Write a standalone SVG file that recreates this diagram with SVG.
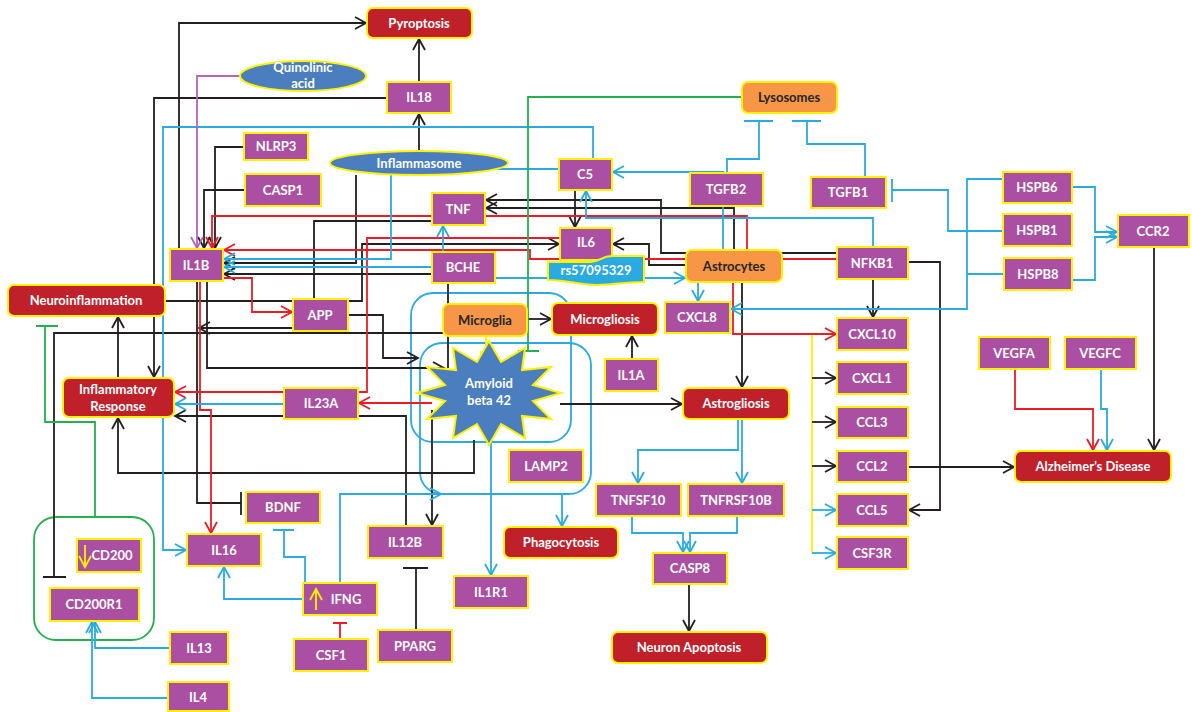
<svg xmlns="http://www.w3.org/2000/svg" width="1192" height="712" viewBox="0 0 1192 712">
  <style>
    .p { fill:#AA4FA2; stroke:#FFF200; stroke-width:2; }
    .r { fill:#C0202A; stroke:#FFF200; stroke-width:2; }
    .o { fill:#F79646; stroke:#FFF200; stroke-width:2; }
    .e { fill:#4A7EBF; stroke:#FFF200; stroke-width:2; }
    .cy { fill:#29ABE2; stroke:#FFF200; stroke-width:2; }
    text { font-family: Lato, "Open Sans", "Liberation Sans", sans-serif; font-weight:bold; font-size:13px; fill:#fff; text-anchor:middle; }
    text.d { fill:#262626; }
    .k, .rd, .bl, .gr, .pu, .ye { fill:none; stroke-width:1.8; }
    .k { stroke:#231F20; }
    .rd { stroke:#ED1C24; }
    .bl { stroke:#29ABE2; }
    .gr { stroke:#22B14C; }
    .pu { stroke:#B565C0; }
    .ye { stroke:#FFF200; }
    .ka { marker-end:url(#ak); }
    .ra { marker-end:url(#ar); }
    .ba { marker-end:url(#ab); }
    .pa { marker-end:url(#ap); }
    .ya { marker-end:url(#ay); }
    .box { fill:none; stroke:#29ABE2; stroke-width:1.8; }
  </style>
  <defs>
    <marker id="ak" markerUnits="userSpaceOnUse" markerWidth="14" markerHeight="16" refX="12" refY="7" orient="auto">
      <path d="M1,1 L12,7 L1,13" fill="none" stroke="#231F20" stroke-width="1.8"/>
    </marker>
    <marker id="ar" markerUnits="userSpaceOnUse" markerWidth="14" markerHeight="16" refX="12" refY="7" orient="auto">
      <path d="M1,1 L12,7 L1,13" fill="none" stroke="#ED1C24" stroke-width="1.8"/>
    </marker>
    <marker id="ab" markerUnits="userSpaceOnUse" markerWidth="14" markerHeight="16" refX="12" refY="7" orient="auto">
      <path d="M1,1 L12,7 L1,13" fill="none" stroke="#29ABE2" stroke-width="1.8"/>
    </marker>
    <marker id="ap" markerUnits="userSpaceOnUse" markerWidth="14" markerHeight="16" refX="12" refY="7" orient="auto">
      <path d="M1,1 L12,7 L1,13" fill="none" stroke="#B565C0" stroke-width="1.8"/>
    </marker>
    <marker id="ay" markerUnits="userSpaceOnUse" markerWidth="14" markerHeight="16" refX="12" refY="7" orient="auto">
      <path d="M1,1 L12,7 L1,13" fill="none" stroke="#FFF200" stroke-width="1.8"/>
    </marker>
  </defs>

  <rect width="1192" height="712" fill="#fff"/>

  <!-- compartments -->
  <g id="compartments">
    <rect class="box" x="411" y="293" width="160" height="149" rx="22"/>
    <rect class="box" x="420" y="343" width="171" height="151" rx="22"/>
    <rect x="34" y="517" width="120" height="123" rx="22" fill="none" stroke="#22B14C" stroke-width="1.8"/>
  </g>

  <g id="connectors">
    <!-- black -->
    <path class="k ka" d="M179,249 V23 H366"/>
    <path class="k ka" d="M419,82 V39"/>
    <path class="k ka" d="M419,151 V114"/>
    <path class="k ka" d="M387,98 H154 V377"/>
    <path class="k ka" d="M244,147 H215 V248"/>
    <path class="k ka" d="M245,190 H204 V248"/>
    <path class="k ka" d="M356,175 V263 H224"/>
    <path class="k ka" d="M448,368 V274 H224"/>
    <path class="k ka" d="M207,281 V368 H444"/>
    <path class="k ka" d="M432,221 H314 V328 H199"/>
    <path class="k" d="M197,281 V503 H241 M241,492 V515"/>
    <path class="k ka" d="M165,301 H362 V244 H559"/>
    <path class="k ka" d="M348,315 H383 V358 H418"/>
    <path class="k" d="M443,333 H54 V577 M43,577 H66"/>
    <path class="k ka" d="M118,378 V317"/>
    <path class="k ka" d="M474,440 V473 H118 V418"/>
    <path class="k ka" d="M406,526 V416 H175"/>
    <path class="k ka" d="M432,410 V525"/>
    <path class="k" d="M416,630 V568 M403,568 H428"/>
    <path class="k ka" d="M527,319 H551"/>
    <path class="k ka" d="M632,359 V336"/>
    <path class="k ka" d="M560,404 H682"/>
    <path class="k ka" d="M575,190 V227"/>
    <path class="k ka" d="M686,265 H649 V244 H613"/>
    <path class="k ka" d="M837,253 H661 V200 H486"/>
    <path class="k ka" d="M734,250 V208 H486"/>
    <path class="k ka" d="M742,282 V387"/>
    <path class="k ka" d="M873,279 V317"/>
    <path class="k ka" d="M908,262 H940 V510 H909"/>
    <path class="k ka" d="M908,467 H1014"/>
    <path class="k ka" d="M1154,247 V450"/>
    <path class="k ka" d="M689,584 V631"/>

    <!-- red -->
    <path class="rd ra" d="M747,250 V216 H212 V248"/>
    <path class="rd ra" d="M837,259 H530 V250 H224"/>
    <path class="rd ra" d="M560,238 H367 V392 H175"/>
    <path class="rd ra" d="M200,281 V410 H211 V533"/>
    <path class="rd ra" d="M223,278 H252 V312 H292"/>
    <path class="rd ra" d="M432,403 H359"/>
    <path class="rd ra" d="M733,282 V334 H836"/>
    <path class="rd" d="M340,639 V623 M333,623 H347"/>
    <path class="rd ra" d="M1015,369 V409 H1093 V450"/>

    <!-- blue -->
    <path class="bl ba" d="M593,159 V127 H163 V550 H186"/>
    <path class="bl ba" d="M559,169 H391 V259 H224"/>
    <path class="bl ba" d="M432,267 H224"/>
    <path class="bl ba" d="M443,252 V226"/>
    <path class="bl ba" d="M495,278 H685"/>
    <path class="bl ba" d="M723,250 V172 H613"/>
    <path class="bl ba" d="M873,247 V218 H586 V191"/>
    <path class="bl ba" d="M698,282 V301"/>
    <path class="bl ba" d="M1003,179 H967 V309 H731"/>
    <path class="bl" d="M1004,274 H967"/>
    <path class="bl" d="M1003,231 H948 V190 H892 M892,179 V202"/>
    <path class="bl ba" d="M1072,187 H1095 V232 H1117"/>
    <path class="bl ba" d="M1072,280 H1095 V237 H1117"/>
    <path class="bl" d="M865,177 V144 H807 V121 M792,121 H821"/>
    <path class="bl" d="M727,173 V159 H759 V121 M744,121 H773"/>
    <path class="bl ba" d="M284,404 H175"/>
    <path class="bl ba" d="M738,419 V450 H638 V483"/>
    <path class="bl ba" d="M742,419 V483"/>
    <path class="bl ba" d="M632,516 V533 H683 V552"/>
    <path class="bl ba" d="M737,516 V533 H690 V552"/>
    <path class="bl ba" d="M491,442 V575"/>
    <path class="bl ba" d="M562,494 V526"/>
    <path class="bl ba" d="M340,583 V494 H441"/>
    <path class="bl ba" d="M303,599 H224 V567"/>
    <path class="bl" d="M305,583 V557 H284 V530 M273,530 H294"/>
    <path class="bl ba" d="M170,648 H95 V622"/>
    <path class="bl ba" d="M168,698 H92 V622"/>
    <path class="bl ba" d="M1101,369 V409 H1107 V450"/>

    <!-- green -->
    <path class="gr" d="M742,97 H528 V351 M518,351 H539"/>
    <path class="gr" d="M95,517 V422 H45 V326 M36,326 H58"/>

    <!-- purple -->
    <path class="pu pa" d="M240,76 H197 V248"/>

    <!-- yellow -->
    <path class="ye ya" d="M486,336 V362"/>
    <path class="ye" d="M812,335 V553"/>
    <path class="k ka" d="M812,378 H836"/>
    <path class="k ka" d="M812,422 H836"/>
    <path class="k ka" d="M812,466 H836"/>
    <path class="bl ba" d="M812,510 H836"/>
    <path class="bl ba" d="M812,553 H836"/>
  </g>

  <!-- outcome nodes -->
  <g id="pyroptosis"><rect class="r" x="367" y="8" width="105" height="30" rx="6"/><text x="419" y="28">Pyroptosis</text></g>
  <g id="neuroinflammation"><rect class="r" x="8" y="285" width="157" height="31" rx="6"/><text x="86" y="305">Neuroinflammation</text></g>
  <g id="inflammatory-response"><rect class="r" x="63" y="378" width="111" height="39" rx="6"/><text x="118" y="394">Inflammatory</text><text x="118" y="411">Response</text></g>
  <g id="microgliosis"><rect class="r" x="552" y="303" width="106" height="32" rx="6"/><text x="605" y="324">Microgliosis</text></g>
  <g id="astrogliosis"><rect class="r" x="683" y="388" width="106" height="31" rx="6"/><text x="736" y="408">Astrogliosis</text></g>
  <g id="phagocytosis"><rect class="r" x="504" y="527" width="114" height="31" rx="6"/><text x="561" y="547">Phagocytosis</text></g>
  <g id="neuron-apoptosis"><rect class="r" x="612" y="632" width="155" height="31" rx="6"/><text x="689" y="652">Neuron Apoptosis</text></g>
  <g id="alzheimers-disease"><rect class="r" x="1015" y="451" width="156" height="31" rx="6"/><text x="1093" y="471">Alzheimer’s Disease</text></g>

  <!-- cells / organelles -->
  <g id="lysosomes"><rect class="o" x="742" y="82" width="95" height="31" rx="6"/><text class="d" x="789" y="102">Lysosomes</text></g>
  <g id="astrocytes"><rect class="o" x="686" y="250" width="96" height="32" rx="6"/><text class="d" x="734" y="271">Astrocytes</text></g>
  <g id="microglia"><rect class="o" x="443" y="304" width="84" height="32" rx="6"/><text class="d" x="485" y="325">Microglia</text></g>

  <!-- complexes / metabolites -->
  <g id="quinolinic-acid"><ellipse class="e" cx="303" cy="76" rx="63" ry="15"/><text x="303" y="72">Quinolinic</text><text x="303" y="88">acid</text></g>
  <g id="inflammasome"><ellipse class="e" cx="419" cy="163" rx="89" ry="12"/><text x="419" y="168">Inflammasome</text></g>
  <g id="amyloid-beta-42">
    <polygon class="e" points="489,341 501,362 525,348 522,370 551,367 533,385 561,393 533,401 551,419 522,416 525,438 501,424 489,445 477,424 453,438 456,416 427,419 445,401 417,393 445,385 427,367 456,370 453,348 477,362"/>
    <text x="489" y="388">Amyloid</text><text x="489" y="405">beta 42</text>
  </g>

  <!-- genes -->
  <g id="il18"><rect class="p" x="387" y="82" width="64" height="31"/><text x="419" y="102">IL18</text></g>
  <g id="nlrp3"><rect class="p" x="244" y="133" width="64" height="27"/><text x="276" y="151">NLRP3</text></g>
  <g id="casp1"><rect class="p" x="245" y="174" width="76" height="32"/><text x="283" y="195">CASP1</text></g>
  <g id="tnf"><rect class="p" x="432" y="193" width="53" height="32"/><text x="458" y="214">TNF</text></g>
  <g id="c5"><rect class="p" x="559" y="159" width="53" height="31"/><text x="585" y="179">C5</text></g>
  <g id="tgfb2"><rect class="p" x="690" y="173" width="73" height="33"/><text x="726" y="194">TGFB2</text></g>
  <g id="tgfb1"><rect class="p" x="811" y="177" width="75" height="31"/><text x="848" y="197">TGFB1</text></g>
  <g id="hspb6"><rect class="p" x="1003" y="172" width="69" height="31"/><text x="1037" y="192">HSPB6</text></g>
  <g id="hspb1"><rect class="p" x="1003" y="214" width="69" height="32"/><text x="1037" y="235">HSPB1</text></g>
  <g id="hspb8"><rect class="p" x="1004" y="258" width="68" height="32"/><text x="1038" y="279">HSPB8</text></g>
  <g id="ccr2"><rect class="p" x="1118" y="215" width="71" height="32"/><text x="1153" y="236">CCR2</text></g>
  <g id="nfkb1"><rect class="p" x="837" y="247" width="71" height="32"/><text x="872" y="268">NFKB1</text></g>
  <g id="il1b"><rect class="p" x="170" y="249" width="53" height="32"/><text x="196" y="270">IL1B</text></g>
  <g id="app"><rect class="p" x="293" y="299" width="55" height="32"/><text x="320" y="320">APP</text></g>
  <g id="bche"><rect class="p" x="432" y="252" width="63" height="31"/><text x="463" y="272">BCHE</text></g>
  <g id="il6"><rect class="p" x="560" y="228" width="52" height="32"/><text x="586" y="247">IL6</text></g>
  <g id="rs57095329">
    <path class="cy" d="M548,262 L590,262 C600,262 601,256 612,256 L644,256 L644,282 C622,282 616,285 597,285 C576,285 570,280 548,280 Z"/>
    <text x="596" y="275" font-size="14">rs57095329</text>
  </g>
  <g id="cxcl8"><rect class="p" x="665" y="302" width="65" height="31"/><text x="697" y="322">CXCL8</text></g>
  <g id="il1a"><rect class="p" x="605" y="359" width="53" height="32"/><text x="631" y="380">IL1A</text></g>
  <g id="il23a"><rect class="p" x="284" y="388" width="74" height="31"/><text x="321" y="408">IL23A</text></g>
  <g id="lamp2"><rect class="p" x="509" y="450" width="74" height="32"/><text x="546" y="471">LAMP2</text></g>
  <g id="il12b"><rect class="p" x="368" y="526" width="75" height="32"/><text x="405" y="547">IL12B</text></g>
  <g id="il1r1"><rect class="p" x="454" y="576" width="74" height="32"/><text x="491" y="597">IL1R1</text></g>
  <g id="pparg"><rect class="p" x="378" y="630" width="74" height="32"/><text x="415" y="651">PPARG</text></g>
  <g id="tnfsf10"><rect class="p" x="596" y="484" width="85" height="32"/><text x="638" y="505">TNFSF10</text></g>
  <g id="tnfrsf10b"><rect class="p" x="688" y="484" width="96" height="32"/><text x="736" y="505">TNFRSF10B</text></g>
  <g id="casp8"><rect class="p" x="653" y="553" width="74" height="31"/><text x="690" y="573">CASP8</text></g>
  <g id="cxcl10"><rect class="p" x="837" y="318" width="71" height="32"/><text x="872" y="339">CXCL10</text></g>
  <g id="cxcl1"><rect class="p" x="837" y="362" width="71" height="32"/><text x="872" y="383">CXCL1</text></g>
  <g id="ccl3"><rect class="p" x="837" y="407" width="71" height="31"/><text x="872" y="427">CCL3</text></g>
  <g id="ccl2"><rect class="p" x="837" y="451" width="71" height="31"/><text x="872" y="471">CCL2</text></g>
  <g id="ccl5"><rect class="p" x="837" y="494" width="71" height="32"/><text x="872" y="515">CCL5</text></g>
  <g id="csf3r"><rect class="p" x="837" y="537" width="71" height="32"/><text x="872" y="558">CSF3R</text></g>
  <g id="vegfa"><rect class="p" x="979" y="337" width="71" height="32"/><text x="1014" y="358">VEGFA</text></g>
  <g id="vegfc"><rect class="p" x="1065" y="337" width="71" height="32"/><text x="1100" y="358">VEGFC</text></g>
  <g id="cd200">
    <rect class="p" x="77" y="539" width="64" height="33"/><text x="112" y="560">CD200</text>
    <path class="ye ya" d="M85,545 V567"/>
  </g>
  <g id="cd200r1"><rect class="p" x="50" y="588" width="89" height="33"/><text x="94" y="609">CD200R1</text></g>
  <g id="il16"><rect class="p" x="187" y="534" width="74" height="32"/><text x="224" y="555">IL16</text></g>
  <g id="bdnf"><rect class="p" x="246" y="492" width="74" height="31"/><text x="283" y="512">BDNF</text></g>
  <g id="ifng">
    <rect class="p" x="303" y="583" width="74" height="32"/><text x="346" y="604">IFNG</text>
    <path class="ye ya" d="M316,610 V589"/>
  </g>
  <g id="csf1"><rect class="p" x="294" y="639" width="74" height="32"/><text x="331" y="660">CSF1</text></g>
  <g id="il13"><rect class="p" x="170" y="632" width="58" height="32"/><text x="199" y="653">IL13</text></g>
  <g id="il4"><rect class="p" x="168" y="682" width="61" height="29"/><text x="198" y="702">IL4</text></g>
</svg>
